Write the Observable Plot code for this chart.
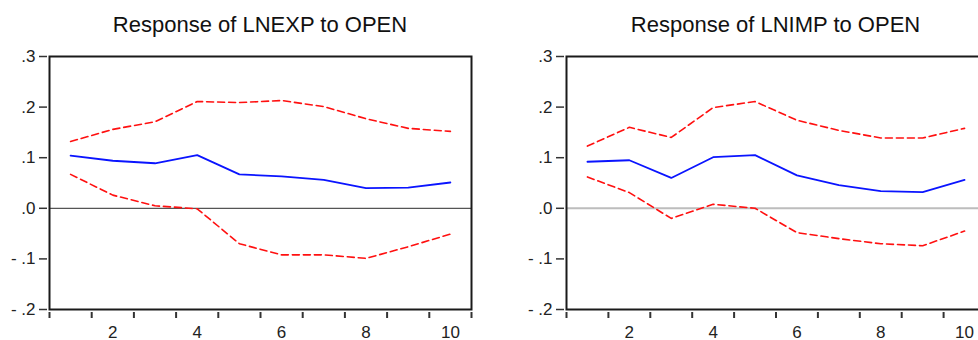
<!DOCTYPE html>
<html>
<head>
<meta charset="utf-8">
<script src="https://cdn.jsdelivr.net/npm/d3@7"></script>
<script src="https://cdn.jsdelivr.net/npm/@observablehq/plot@0.6"></script>
<style>
  html, body { margin: 0; padding: 0; background: #fff; }
  body { width: 978px; height: 340px; overflow: hidden; position: relative; font-family: "Liberation Sans", Arial, sans-serif; }
  .panel { position: absolute; top: 0; }
  .title { height: 40px; line-height: 50px; text-align: center; font-size: 22px; color: #111; white-space: nowrap; }
  .panel svg { display: block; }
</style>
</head>
<body>
<div id="left" class="panel" style="left:0px;width:490px"></div>
<div id="right" class="panel" style="left:490px;width:500px"></div>
<script>
// ---- data ----
const periods = [1, 2, 3, 4, 5, 6, 7, 8, 9, 10];

const titles = ["Response of LNEXP to OPEN", "Response of LNIMP to OPEN"];

const expResp  = [0.104, 0.094, 0.089, 0.105, 0.067, 0.063, 0.056, 0.040, 0.041, 0.051];
const expUpper = [0.132, 0.156, 0.171, 0.211, 0.209, 0.213, 0.201, 0.177, 0.158, 0.152];
const expLower = [0.067, 0.026, 0.005, -0.001, -0.070, -0.092, -0.092, -0.099, -0.076, -0.051];

const impResp  = [0.092, 0.095, 0.060, 0.101, 0.105, 0.065, 0.046, 0.034, 0.032, 0.056];
const impUpper = [0.123, 0.160, 0.140, 0.199, 0.211, 0.174, 0.154, 0.139, 0.139, 0.158];
const impLower = [0.062, 0.031, -0.020, 0.008, 0.000, -0.048, -0.060, -0.070, -0.074, -0.045];

const yTicks = [-0.2, -0.1, 0.0, 0.1, 0.2, 0.3];
const xLabelTicks = [2, 4, 6, 8, 10];
const xTickMarks = [0.5, 1.5, 2.5, 3.5, 4.5, 5.5, 6.5, 7.5, 8.5, 9.5, 10.5];

// ---- helpers ----
const toRows = (vals) => periods.map((p, i) => ({period: p, value: vals[i]}));
const fmtY = (d) => {
  const s = d3.format(".1f")(Math.abs(d)).replace(/^0\./, ".");
  return d < 0 ? "- " + s : s;
};

function panel(el, title, resp, upper, lower, opts) {
  const t = document.createElement("div");
  t.className = "title";
  t.style.width = opts.titleWidth + "px";
  t.style.marginLeft = opts.titleLeft + "px";
  t.textContent = title;
  el.appendChild(t);

  const chart = Plot.plot({
    width: opts.width,
    height: 300,
    marginTop: 16,
    marginBottom: 31,
    marginLeft: opts.marginLeft,
    marginRight: opts.marginRight,
    style: {fontFamily: "Liberation Sans, Arial, sans-serif", fontSize: "17px", color: "#222", background: "#fff"},
    x: {domain: [0.5, 10.5]},
    y: {domain: [-0.2, 0.3]},
    marks: [
      Plot.ruleY([0], {stroke: opts.zeroColor, strokeWidth: opts.zeroWidth}),
      Plot.line(toRows(upper), {x: "period", y: "value", stroke: "#ff1010", strokeWidth: 1.6, strokeDasharray: "7,4"}),
      Plot.line(toRows(lower), {x: "period", y: "value", stroke: "#ff1010", strokeWidth: 1.6, strokeDasharray: "7,4"}),
      Plot.line(toRows(resp), {x: "period", y: "value", stroke: "#0a14ff", strokeWidth: 1.8}),
      Plot.frame({stroke: "#1a1a1a", strokeWidth: 2}),
      Plot.axisY({ticks: yTicks, tickFormat: fmtY, tickSize: 8, tickPadding: 4, dx: -2, label: null, stroke: "#333", strokeWidth: 1.5}),
      Plot.axisX({ticks: xTickMarks, tickFormat: () => "", tickSize: 6, dy: 3, label: null, stroke: "#333", strokeWidth: 2}),
      Plot.axisX({ticks: xLabelTicks, tickFormat: d3.format("d"), tickSize: 0, tickPadding: 16, label: null})
    ]
  });
  el.appendChild(chart);
}

panel(document.getElementById("left"), titles[0], expResp, expUpper, expLower,
  {width: 490, marginLeft: 49, marginRight: 19, titleWidth: 422, titleLeft: 49, zeroColor: "#555", zeroWidth: 1.3});
panel(document.getElementById("right"), titles[1], impResp, impUpper, impLower,
  {width: 500, marginLeft: 76, marginRight: 5, titleWidth: 419, titleLeft: 76, zeroColor: "#bdbdbd", zeroWidth: 2});
</script>
</body>
</html>
